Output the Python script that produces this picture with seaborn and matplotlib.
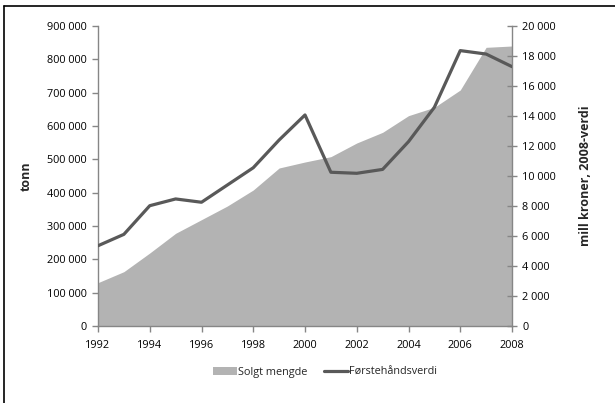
import matplotlib
matplotlib.use("Agg")
import matplotlib.pyplot as plt
import seaborn as sns
import pandas as pd
from matplotlib.ticker import FuncFormatter, MultipleLocator
from matplotlib.lines import Line2D
from matplotlib.patches import Patch

years = list(range(1992, 2009))
solgt_mengde = [130000, 163000, 219000, 278000, 319000, 360000, 408000, 474000,
                492000, 508000, 549000, 581000, 631000, 656000, 708000, 836000, 840000]
forstehandsverdi = [5350, 6110, 8020, 8470, 8250, 9400, 10550, 12400, 14070,
                    10250, 10180, 10440, 12290, 14580, 18360, 18130, 17290]
xticks = list(range(1992, 2009, 2))

df = pd.DataFrame({"år": years, "mengde": solgt_mengde, "verdi": forstehandsverdi})

sns.set_theme(style="white")
plt.rcParams["font.family"] = ["Open Sans", "DejaVu Sans"]

fig = plt.figure(figsize=(6.15, 4.03), dpi=100)
ax = fig.add_axes([98/615, 1-326/403, (512-98)/615, 300/403])
ax2 = ax.twinx()

area_col = "#b3b3b3"
line_col = "#595959"
spine_col = "#868686"

ax.fill_between(df["år"], 0, df["mengde"], color=area_col, lw=0, zorder=1)
sns.lineplot(data=df, x="år", y="verdi", ax=ax2, color=line_col, lw=2.3, zorder=3)

ax.set_xlim(1992, 2008)
ax.set_ylim(0, 900000)
ax2.set_ylim(0, 20000)
ax.set_xticks(xticks)
ax.yaxis.set_major_locator(MultipleLocator(100000))
ax2.yaxis.set_major_locator(MultipleLocator(2000))

fmt = FuncFormatter(lambda v, p: f"{int(v):,}".replace(",", " "))
ax.yaxis.set_major_formatter(fmt)
ax2.yaxis.set_major_formatter(fmt)

for a in (ax, ax2):
    for s in a.spines.values():
        s.set_visible(False)
ax.spines["left"].set_visible(True)
ax.spines["bottom"].set_visible(True)
ax2.spines["right"].set_visible(True)
for s in (ax.spines["left"], ax.spines["bottom"], ax2.spines["right"]):
    s.set_color(spine_col)
    s.set_linewidth(1.0)

ax.tick_params(axis="y", direction="out", length=4, color=spine_col, width=1,
               labelsize=7.8, pad=4, left=True, labelcolor="black")
ax.tick_params(axis="x", direction="out", length=4, color=spine_col, width=1,
               labelsize=7.8, pad=6, bottom=True, labelcolor="black")
ax2.tick_params(axis="y", direction="inout", length=7, color=spine_col, width=1,
                labelsize=7.8, pad=4, right=True, labelcolor="black")
ax.set_xlabel("")
ax2.set_xlabel("")
ax.set_ylabel("tonn", fontsize=9, fontweight="bold", labelpad=10)
ax2.set_ylabel("mill kroner, 2008-verdi", fontsize=9, fontweight="bold", labelpad=16)
ax.grid(False)
ax2.grid(False)

handles = [Patch(facecolor=area_col, edgecolor="none", label="Solgt mengde"),
           Line2D([0], [0], color=line_col, lw=2.3, label="Førstehåndsverdi")]
fig.legend(handles=handles, loc="center", bbox_to_anchor=(325/615, 1-372/403),
           ncol=2, frameon=False, fontsize=7.8, handlelength=2.2, handletextpad=0.1,
           columnspacing=1.5)

# chart frame (left and top edges visible)
fig.add_artist(Line2D([4/615, 4/615], [0, 1-6/403], color="black", lw=1.2,
                      transform=fig.transFigure))
fig.add_artist(Line2D([4/615, 1], [1-6/403, 1-6/403], color="black", lw=1.2,
                      transform=fig.transFigure))

fig.savefig("out.png", dpi=100)
